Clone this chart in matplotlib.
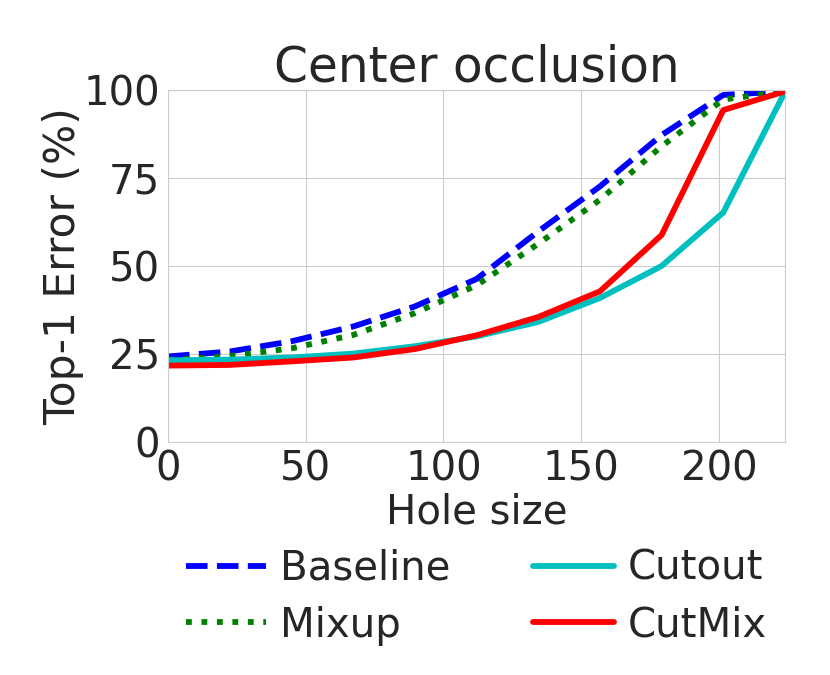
import matplotlib
matplotlib.use("Agg")
from matplotlib import pyplot as plt
import seaborn as sns

hole_size = [0, 22.4, 44.8, 67.2, 89.6, 112, 134.4, 156.8, 179.2, 201.6, 224]
baseline = [24.3, 25.7, 28.6, 32.8, 38.5, 46.3, 59.8, 72.6, 87.2, 98.6, 99.6]
mixup = [23.3, 24.4, 26.6, 30.4, 36.6, 44.5, 56.3, 68.8, 84.0, 97.3, 99.6]
cutout = [23.2, 23.4, 24.0, 25.1, 27.2, 30.0, 34.1, 40.9, 50.0, 65.2, 99.5]
cutmix = [21.7, 21.9, 22.9, 24.0, 26.4, 30.3, 35.5, 42.8, 58.8, 94.3, 99.6]

sns.set_style("whitegrid")
plt.rcParams["font.family"] = ["DejaVu Sans"]
plt.rcParams["text.color"] = "#262626"
plt.rcParams["axes.labelcolor"] = "#262626"
plt.rcParams["xtick.color"] = "#262626"
plt.rcParams["ytick.color"] = "#262626"

fig = plt.figure(figsize=(8.3, 6.75), dpi=100)
ax = fig.add_axes([0.2024, 0.3452, 0.7434, 0.5215])

lw = 4.2
ax.plot(hole_size, baseline, "b--", lw=lw, label="Baseline")
ax.plot(hole_size, mixup, "g:", lw=lw, label="Mixup")
ax.plot(hole_size, cutout, "c-", lw=lw, label="Cutout")
ax.plot(hole_size, cutmix, "r-", lw=lw, label="CutMix")

ax.set_xlim(0, 224)
ax.set_ylim(0, 100)
ax.set_xticks([0, 50, 100, 150, 200])
ax.set_yticks([0, 25, 50, 75, 100])
ax.tick_params(labelsize=29, pad=2)
ax.set_xlabel("Hole size", fontsize=29, labelpad=2)
ax.set_ylabel("Top-1 Error (%)", fontsize=30.5, labelpad=0)
ax.set_title("Center occlusion", fontsize=35, pad=6)

ax.legend(loc="upper center", bbox_to_anchor=(0.5, -0.2), ncol=2,
          frameon=False, fontsize=29, handlelength=2.0, handletextpad=0.35,
          columnspacing=2.05, labelspacing=0.42)

fig.savefig("out.png", dpi=100)
